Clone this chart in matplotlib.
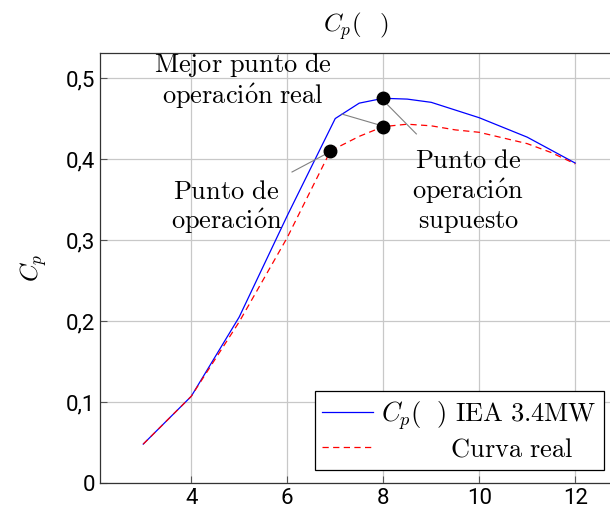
import matplotlib
matplotlib.use("Agg")
import matplotlib.pyplot as plt
from matplotlib.ticker import FuncFormatter, FixedLocator

plt.rcParams["mathtext.fontset"] = "cm"

# power coefficient curves vs tip speed ratio
tsr_iea = [3, 4, 5, 6, 7, 7.5, 8, 8.5, 9, 10, 11, 12]
cp_iea = [0.048, 0.107, 0.205, 0.33, 0.450, 0.469, 0.475, 0.474, 0.470, 0.451, 0.427, 0.395]

tsr_real = [3, 4, 5, 6, 6.9, 7.5, 8, 8.5, 9, 9.5, 10, 10.5, 11, 11.5, 12]
cp_real = [0.048, 0.107, 0.199, 0.303, 0.41, 0.428, 0.44, 0.443, 0.441, 0.436, 0.433, 0.426, 0.419, 0.408, 0.394]

# highlighted operating points
op_x = [6.9, 8, 8]
op_y = [0.41, 0.475, 0.44]

x_ticks = [4, 6, 8, 10, 12]
y_ticks = [0, 0.1, 0.2, 0.3, 0.4, 0.5]

fig = plt.figure(figsize=(6.1, 5.2), dpi=100)
ax = fig.add_axes([0.164, 0.0712, 0.838, 0.827])

ax.plot(tsr_iea, cp_iea, color="#0000ff", lw=0.9, zorder=3,
        label=r"$C_p(\ \ )$ $\mathrm{IEA\ 3.4MW}$")
ax.plot(tsr_real, cp_real, color="#ff0000", lw=0.9, dashes=(5, 3.5), zorder=3,
        label=r"$\mathrm{\ \ \ \ \ \ \ \ \ Curva\ real}$")
ax.plot(op_x, op_y, "o", color="black", ms=9, zorder=5)

# pointer lines for the annotations
gray = "#808080"
ax.plot([6.1, 6.83], [0.384, 0.407], color=gray, lw=0.8, zorder=4)
ax.plot([7.14, 7.92], [0.4555, 0.442], color=gray, lw=0.8, zorder=4)
ax.plot([8.09, 8.69], [0.467, 0.431], color=gray, lw=0.8, zorder=4)

txt_kw = dict(ha="center", va="center", fontsize=19, linespacing=1.1)
ax.text(5.08, 0.4965, r"$\mathrm{Mejor\ punto\ de}$" "\n" r"$\mathrm{operaci\acute{o}n\ real}$", **txt_kw)
ax.text(4.73, 0.34, r"$\mathrm{Punto\ de}$" "\n" r"$\mathrm{operaci\acute{o}n}$", **txt_kw)
ax.text(9.77, 0.36, r"$\mathrm{Punto\ de}$" "\n" r"$\mathrm{operaci\acute{o}n}$" "\n" r"$\mathrm{supuesto}$", **txt_kw)

ax.set_xlim(2.1, 12.75)
ax.set_ylim(0, 0.531)
ax.xaxis.set_major_locator(FixedLocator(x_ticks))
ax.yaxis.set_major_locator(FixedLocator(y_ticks))
ax.yaxis.set_major_formatter(FuncFormatter(lambda v, p: "0" if v == 0 else f"{v:.1f}".replace(".", ",")))

ax.grid(True, color="#c8c8c8", lw=0.9)
ax.set_axisbelow(True)
ax.tick_params(direction="in", length=5, color="#555555", labelsize=16, width=0.8)
for lab in ax.get_xticklabels() + ax.get_yticklabels():
    lab.set_family(["Roboto", "DejaVu Sans"])
for sp in ax.spines.values():
    sp.set_color("#333333")
    sp.set_linewidth(0.9)

ax.set_ylabel(r"$C_p$", fontsize=18, labelpad=12)
ax.set_title(r"$C_p(\ \ \,)$", fontsize=18, pad=15)

leg = ax.legend(loc="lower right", bbox_to_anchor=(0.986, 0.03), fontsize=19,
                fancybox=False, framealpha=1, edgecolor="black",
                handlelength=1.9, handletextpad=0.3, borderpad=0.3,
                labelspacing=0.15, borderaxespad=0)
leg.get_frame().set_linewidth(0.9)

fig.savefig("out.png", dpi=100)
